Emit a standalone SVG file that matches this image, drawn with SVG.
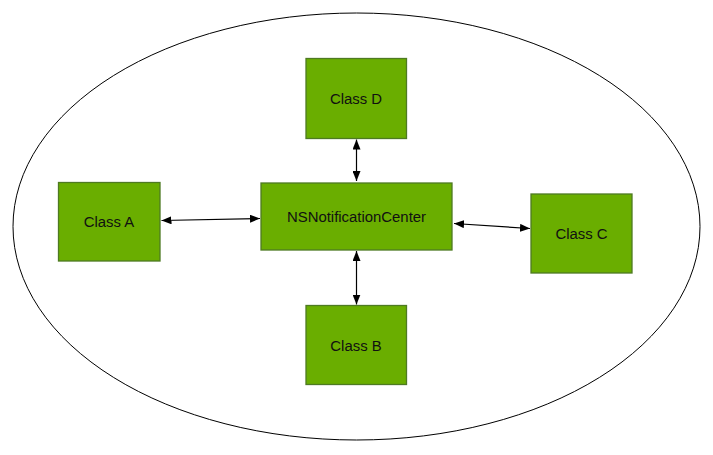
<svg xmlns="http://www.w3.org/2000/svg" width="713" height="455" viewBox="0 0 713 455">
<style>
.box{fill:#6aae00;stroke:#4e7a22;stroke-width:1.3}
.lbl{font-family:"Liberation Sans",Arial,sans-serif;font-size:14.9px;fill:#111;text-anchor:middle;dominant-baseline:central}
.con{stroke:#000;stroke-width:1.2;fill:none;marker-start:url(#ah);marker-end:url(#ah)}
</style>
<defs>
<marker id="ah" viewBox="0 0 10 8" refX="10" refY="4" markerWidth="10" markerHeight="8" markerUnits="userSpaceOnUse" orient="auto-start-reverse">
<path d="M0,0 L10,4 L0,8 Z" fill="#000"/>
</marker>
</defs>
<rect width="713" height="455" fill="#fff"/>
<ellipse id="boundary" cx="356.5" cy="226.5" rx="343.5" ry="213.5" fill="none" stroke="#000" stroke-width="1"/>
<g id="connectors">
<line class="con" x1="161.5" y1="220.5" x2="260" y2="218.5"/>
<line class="con" x1="454" y1="223.5" x2="530" y2="228.5"/>
<line class="con" x1="356.5" y1="139.5" x2="356.5" y2="181"/>
<line class="con" x1="356.5" y1="251" x2="356.5" y2="304.5"/>
</g>
<g id="center"><rect class="box" x="261" y="183" width="191" height="67"/><text class="lbl" x="356.5" y="216.5">NSNotificationCenter</text></g>
<g id="classA"><rect class="box" x="58.5" y="182.5" width="101.5" height="78.5"/><text class="lbl" x="109" y="222">Class A</text></g>
<g id="classC"><rect class="box" x="531" y="194" width="101" height="79"/><text class="lbl" x="581.5" y="234">Class C</text></g>
<g id="classD"><rect class="box" x="306" y="58.5" width="100.5" height="80"/><text class="lbl" x="356" y="99">Class D</text></g>
<g id="classB"><rect class="box" x="306" y="305.5" width="100.5" height="79"/><text class="lbl" x="356" y="345.5">Class B</text></g>
</svg>
